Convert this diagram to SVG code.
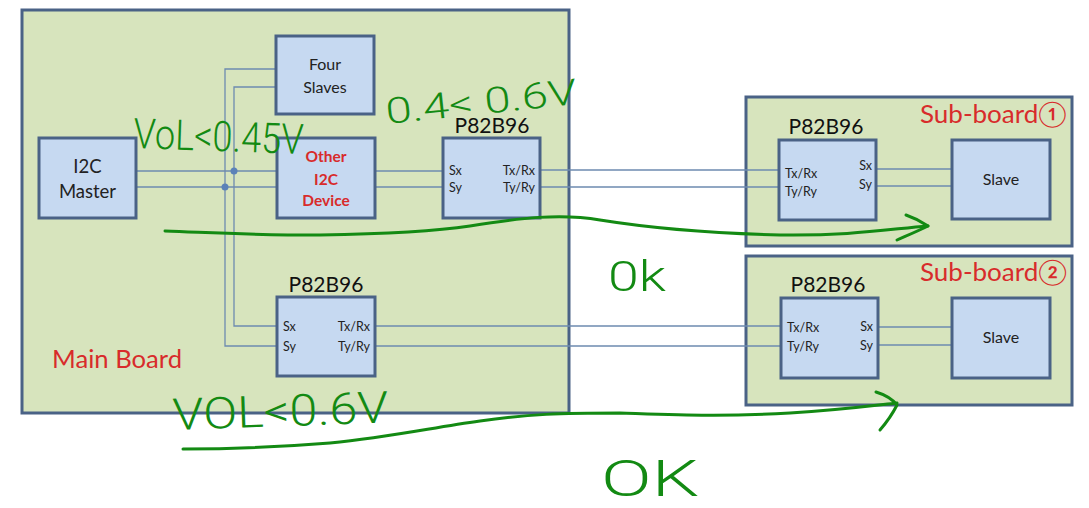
<svg xmlns="http://www.w3.org/2000/svg" width="1089" height="508" viewBox="0 0 1089 508">
<style>
.board{fill:#d7e4bd;stroke:#4a6286;stroke-width:3}
.box{fill:#c6d9f1;stroke:#4a6286;stroke-width:3}
.wire{fill:none;stroke:#6d8ab0;stroke-width:1.3}
.dot{fill:#5b82b8}
.t{font-family:Lato,"Liberation Sans",sans-serif;fill:#222}
.lbl{font-family:Lato,"Liberation Sans",sans-serif;font-size:21px;fill:#111}
.pin{font-family:Lato,"Liberation Sans",sans-serif;font-size:12.5px;fill:#222}
.red{font-family:Lato,"Liberation Sans","DejaVu Sans",sans-serif;fill:#d82b2b}
.ink{fill:none;stroke:#138a13;stroke-width:3;stroke-linecap:round;stroke-linejoin:round}
.hand{font-family:Roboto,"DejaVu Sans",sans-serif;fill:#138a13;font-weight:300}
</style>
<g id="main-board"><rect class="board" x="22" y="10" width="547" height="403"/><text class="red" x="52" y="368" font-size="25" textLength="130" lengthAdjust="spacingAndGlyphs">Main Board</text></g>
<g id="sub-board-1"><rect class="board" x="746" y="97" width="326" height="149"/><text class="red" x="920" y="123" font-size="25" textLength="147" lengthAdjust="spacingAndGlyphs">Sub-board①</text></g>
<g id="sub-board-2"><rect class="board" x="746" y="256" width="326" height="149"/><text class="red" x="920" y="281" font-size="25" textLength="147" lengthAdjust="spacingAndGlyphs">Sub-board②</text></g>
<g id="connectors">
<path class="wire" d="M136 171H277M136 187H277"/>
<path class="wire" d="M276 69H225V346H277M276 87H234V326H277"/>
<path class="wire" d="M375 171H443M375 187H443"/>
<path class="wire" d="M540 170H779M540 187H779"/>
<path class="wire" d="M876 169H952M876 186H952"/>
<path class="wire" d="M375 326H781M375 346H781"/>
<path class="wire" d="M878 327H952M878 345H952"/>
<circle class="dot" cx="234" cy="171" r="3.5"/>
<circle class="dot" cx="225" cy="187" r="3.5"/>
</g>
<g id="four-slaves"><rect class="box" x="276" y="36" width="98" height="78"/><text class="t" font-size="16" text-anchor="middle" x="325" y="70">Four</text><text class="t" font-size="16" text-anchor="middle" x="325" y="93">Slaves</text></g>
<g id="i2c-master"><rect class="box" x="39" y="138" width="97" height="80"/><text class="t" font-size="18.5" text-anchor="middle" x="87.5" y="173">I2C</text><text class="t" font-size="18.5" text-anchor="middle" x="87.5" y="198">Master</text></g>
<g id="other-i2c"><rect class="box" x="277" y="138" width="98" height="80"/><text class="red" font-size="15.5" font-weight="bold" text-anchor="middle" x="326" y="162">Other</text><text class="red" font-size="15.5" font-weight="bold" text-anchor="middle" x="326" y="185">I2C</text><text class="red" font-size="15.5" font-weight="bold" text-anchor="middle" x="326" y="206">Device</text></g>
<g id="p82b96-main-top"><rect class="box" x="443" y="138" width="97" height="80"/><text class="lbl" text-anchor="middle" x="492" y="133">P82B96</text><text class="pin" x="449" y="175">Sx</text><text class="pin" x="449" y="192">Sy</text><text class="pin" text-anchor="end" x="535" y="175">Tx/Rx</text><text class="pin" text-anchor="end" x="535" y="192">Ty/Ry</text></g>
<g id="p82b96-main-bottom"><rect class="box" x="277" y="297" width="98" height="79"/><text class="lbl" text-anchor="middle" x="326" y="292">P82B96</text><text class="pin" x="283" y="331">Sx</text><text class="pin" x="283" y="351">Sy</text><text class="pin" text-anchor="end" x="370" y="331">Tx/Rx</text><text class="pin" text-anchor="end" x="370" y="351">Ty/Ry</text></g>
<g id="p82b96-sub1"><rect class="box" x="779" y="140" width="97" height="80"/><text class="lbl" text-anchor="middle" x="826" y="134">P82B96</text><text class="pin" x="785" y="178">Tx/Rx</text><text class="pin" x="785" y="196">Ty/Ry</text><text class="pin" text-anchor="end" x="872" y="170">Sx</text><text class="pin" text-anchor="end" x="872" y="189">Sy</text></g>
<g id="slave-sub1"><rect class="box" x="952" y="140" width="98" height="79"/><text class="t" font-size="16" text-anchor="middle" x="1001" y="185">Slave</text></g>
<g id="p82b96-sub2"><rect class="box" x="781" y="298" width="97" height="80"/><text class="lbl" text-anchor="middle" x="828" y="292">P82B96</text><text class="pin" x="787" y="332">Tx/Rx</text><text class="pin" x="787" y="351">Ty/Ry</text><text class="pin" text-anchor="end" x="873" y="331">Sx</text><text class="pin" text-anchor="end" x="873" y="350">Sy</text></g>
<g id="slave-sub2"><rect class="box" x="952" y="298" width="98" height="80"/><text class="t" font-size="16" text-anchor="middle" x="1001" y="343">Slave</text></g>
<g id="annotations">
<path class="ink" d="M165 231C220 233 250 235 320 235C380 234 430 232 470 226C520 218 560 213 600 220C650 228 700 233 780 235C850 236 890 229 928 226"/>
<path class="ink" d="M906 215C915 218 922 222 928 226C918 231 906 236 897 240"/>
<path class="ink" d="M183 449C240 449 280 447 330 443C390 437 430 428 480 421C530 414 560 413 620 413C680 415 720 417 790 413C840 410 870 406 897 403"/>
<path class="ink" d="M876 392C886 395 893 400 897 405C892 415 886 423 880 430"/>
<text class="hand" x="133" y="148" font-size="42" textLength="170" lengthAdjust="spacingAndGlyphs" transform="rotate(2 133 148)">VoL&lt;0.45V</text>
<text class="hand" x="387" y="124" font-size="36" textLength="192" lengthAdjust="spacingAndGlyphs" transform="rotate(-6 387 124)">0.4&lt; 0.6V</text>
<text class="hand" x="173" y="430" font-size="44" textLength="216" lengthAdjust="spacingAndGlyphs" transform="rotate(-2 173 430)">VOL&lt;0.6V</text>
<text class="hand" x="608" y="291" font-size="42" textLength="58" lengthAdjust="spacingAndGlyphs">0k</text>
<text class="hand" x="601" y="496" font-size="50" textLength="98" lengthAdjust="spacingAndGlyphs">OK</text>
</g>
</svg>
